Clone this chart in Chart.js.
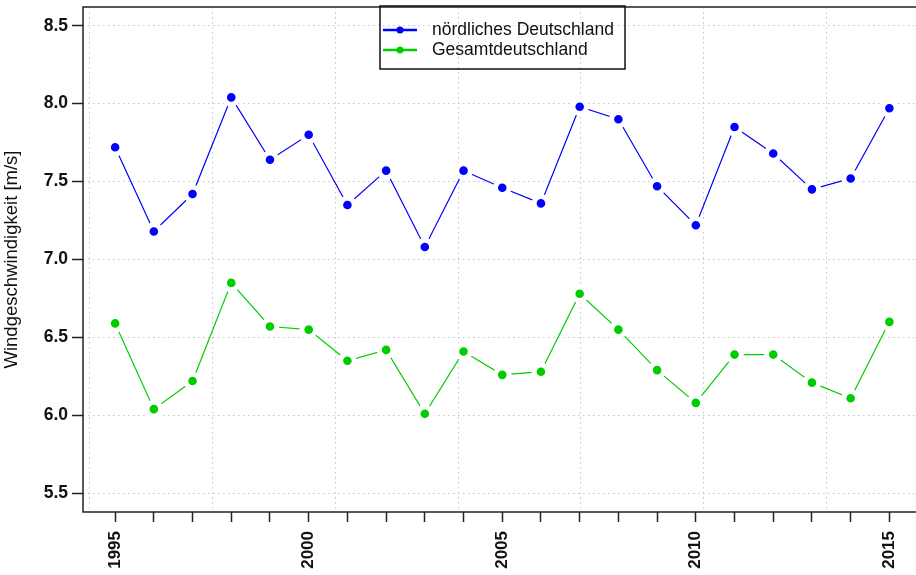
<!DOCTYPE html>
<html>
<head>
<meta charset="utf-8">
<script src="https://cdn.jsdelivr.net/npm/chart.js@4/dist/chart.umd.min.js"></script>
<style>
  html, body { margin: 0; padding: 0; background: #fff; overflow: hidden; }
  canvas { display: block; }
</style>
</head>
<body>
<canvas id="chart" width="930" height="575"></canvas>
<script>
// Jahresmittel der Windgeschwindigkeit
const years = [1995, 1996, 1997, 1998, 1999, 2000, 2001, 2002, 2003, 2004, 2005,
               2006, 2007, 2008, 2009, 2010, 2011, 2012, 2013, 2014, 2015];
const nordDeutschland = [7.72, 7.18, 7.42, 8.04, 7.64, 7.80, 7.35, 7.57, 7.08, 7.57, 7.46,
                         7.36, 7.98, 7.90, 7.47, 7.22, 7.85, 7.68, 7.45, 7.52, 7.97];
const gesamtDeutschland = [6.59, 6.04, 6.22, 6.85, 6.57, 6.55, 6.35, 6.42, 6.01, 6.41, 6.26,
                           6.28, 6.78, 6.55, 6.29, 6.08, 6.39, 6.39, 6.21, 6.11, 6.60];
const yTicks = [5.5, 6.0, 6.5, 7.0, 7.5, 8.0, 8.5];
const xGridLines = [1994.35, 1997.52, 2000.69, 2003.86, 2007.03, 2010.2, 2013.38];

const FONT = "'Liberation Sans', Arial, sans-serif";

// Rahmen um den Plotbereich + Legende
const rahmen = {
  id: 'rahmen',
  afterDraw(chart) {
    const ctx = chart.ctx;
    const a = chart.chartArea;
    ctx.save();
    ctx.strokeStyle = '#222';
    ctx.lineWidth = 1.5;
    ctx.strokeRect(a.left, a.top, a.right - a.left, a.bottom - a.top);

    // legende
    ctx.strokeStyle = '#111';
    ctx.strokeRect(380, 6, 245, 63);
    chart.data.datasets.forEach((ds, i) => {
      const y = 30 + i * 20;
      ctx.strokeStyle = ds.pointBackgroundColor;
      ctx.lineWidth = 2.5;
      ctx.beginPath();
      ctx.moveTo(383, y);
      ctx.lineTo(417, y);
      ctx.stroke();
      ctx.fillStyle = ds.pointBackgroundColor;
      ctx.beginPath();
      ctx.arc(400, y, 3.5, 0, Math.PI * 2);
      ctx.fill();
      ctx.fillStyle = '#111';
      ctx.font = '17.5px ' + FONT;
      ctx.textBaseline = 'middle';
      ctx.fillText(ds.label, 432, y);
    });
    ctx.restore();
  }
};

new Chart(document.getElementById('chart'), {
  type: 'line',
  data: {
    labels: years,
    datasets: [
      {
        label: 'nördliches Deutschland',
        data: years.map((x, i) => ({ x: x, y: nordDeutschland[i] })),
        borderColor: '#0000ff',
        borderWidth: 1.2,
        pointBackgroundColor: '#0000ff',
        pointBorderColor: '#ffffff',
        pointBorderWidth: 5,
        pointRadius: 6.8,
        tension: 0,
      },
      {
        label: 'Gesamtdeutschland',
        data: years.map((x, i) => ({ x: x, y: gesamtDeutschland[i] })),
        borderColor: '#00cd00',
        borderWidth: 1.2,
        pointBackgroundColor: '#00cd00',
        pointBorderColor: '#ffffff',
        pointBorderWidth: 5,
        pointRadius: 6.8,
        tension: 0,
      },
    ],
  },
  options: {
    responsive: false,
    animation: false,
    devicePixelRatio: 1,
    layout: { autoPadding: false, padding: { top: 7, right: 8.5, left: 0, bottom: 0 } },
    plugins: { legend: { display: false }, tooltip: { enabled: false } },
    scales: {
      x: {
        type: 'linear',
        min: 1994.17,
        max: 2015.83,
        afterBuildTicks: (s) => { s.ticks = years.map(v => ({ value: v })); },
        afterFit: (s) => { s.height = 63; s.paddingLeft = 0; s.paddingRight = 0; },
        border: { display: false },
        grid: {
          drawOnChartArea: false,
          tickLength: 10,
          tickColor: '#222',
          tickWidth: 1.5,
        },
        ticks: {
          autoSkip: false,
          minRotation: 90,
          maxRotation: 90,
          padding: 9,
          color: '#111',
          font: { family: FONT, size: 17, weight: 'bold', lineHeight: 0.6 },
          callback: (v) => (v % 5 === 0 ? String(v) : ''),
        },
      },
      xg: {
        type: 'linear',
        position: 'bottom',
        min: 1994.17,
        max: 2015.83,
        afterBuildTicks: (s) => { s.ticks = xGridLines.map(v => ({ value: v })); },
        afterFit: (s) => { s.height = 0; },
        border: { display: false, dash: [1.5, 3.5] },
        grid: { color: '#c4c4c4', drawTicks: false, lineWidth: 1 },
        ticks: { display: false },
      },
      y: {
        min: 5.38,
        max: 8.62,
        afterBuildTicks: (s) => { s.ticks = yTicks.map(v => ({ value: v })); },
        afterFit: (s) => { s.width = 83; s.paddingTop = 0; s.paddingBottom = 0; },
        border: { display: false, dash: [1.5, 3.5] },
        grid: {
          color: '#c4c4c4',
          tickLength: 11,
          tickColor: '#222',
          tickWidth: 1.5,
          tickBorderDash: [],
        },
        ticks: {
          padding: 4,
          color: '#111',
          font: { family: FONT, size: 17.5, weight: 'bold', lineHeight: 0.6 },
          callback: (v) => v.toFixed(1),
        },
        title: {
          display: true,
          text: 'Windgeschwindigkeit [m/s]',
          color: '#111',
          font: { family: FONT, size: 18.5 },
          padding: { top: 1, bottom: 0 },
        },
      },
    },
  },
  plugins: [rahmen],
});
</script>
</body>
</html>
